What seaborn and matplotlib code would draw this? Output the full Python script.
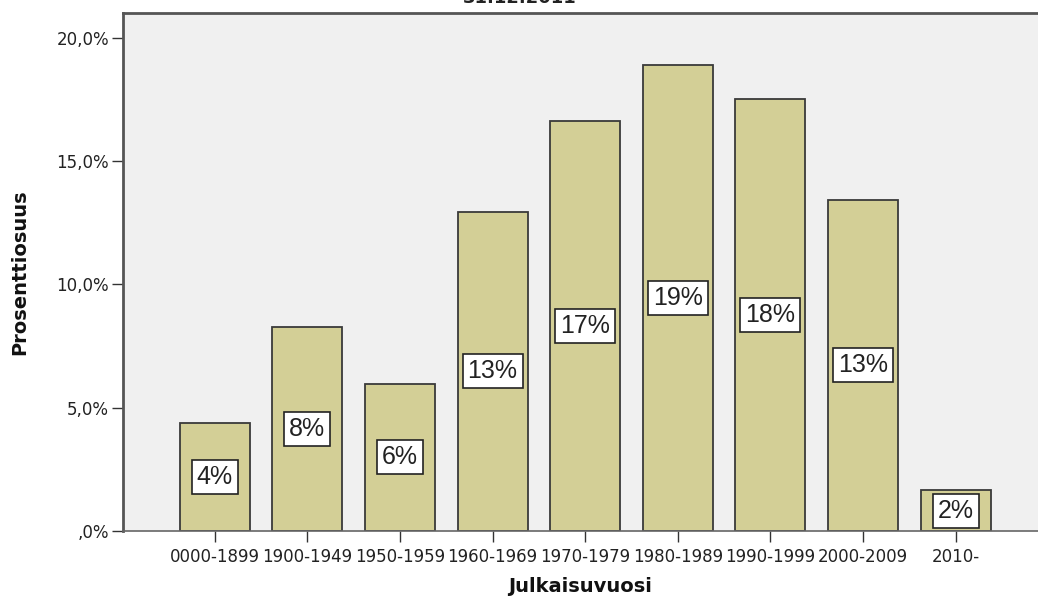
import numpy as np
import pandas as pd
import matplotlib.pyplot as plt
import seaborn as sns
from matplotlib.ticker import FuncFormatter

# Data
periods = ["0000-1899", "1900-1949", "1950-1959", "1960-1969", "1970-1979",
           "1980-1989", "1990-1999", "2000-2009", "2010-"]
shares = [4.38, 8.28, 5.96, 12.94, 16.63, 18.90, 17.52, 13.43, 1.66]
title_text = "31.12.2011"

df = pd.DataFrame({"Julkaisuvuosi": periods, "Prosenttiosuus": shares})

sns.set_style("white")
plt.rcParams['font.family'] = ['DejaVu Sans']

fig = plt.figure(figsize=(10.38, 5.99), dpi=100)
ax = fig.add_axes([123 / 1038, 68 / 599, 915 / 1038, 518 / 599])
ax.set_facecolor("#F0F0F0")

sns.barplot(data=df, x="Julkaisuvuosi", y="Prosenttiosuus", color="#D3CF96",
            edgecolor="#3a3a3a", linewidth=1.3, width=0.756, saturation=1, ax=ax)

# value labels in white boxes at mid-height
for i, v in enumerate(shares):
    ax.text(i, v / 2, f"{round(v)}%", ha="center", va="center", fontsize=18,
            family=["Liberation Sans", "DejaVu Sans"], color="#222222",
            bbox=dict(boxstyle="square,pad=0.2", facecolor="white",
                      edgecolor="#222222", linewidth=1.2))

ax.set_xlim(-0.99, 8.89)
ax.set_ylim(0, 21.0)
ax.set_yticks([0, 5, 10, 15, 20])


def pct(v, p):
    s = f"{v:.1f}%".replace(".", ",")
    return s.lstrip("0") if v < 1 else s


ax.yaxis.set_major_formatter(FuncFormatter(pct))

ax.tick_params(axis="both", direction="out", length=8, width=1, color="#333333",
               labelcolor="#222222", left=True, bottom=True)
ax.tick_params(axis="y", labelsize=12, pad=2)
ax.tick_params(axis="x", labelsize=12, pad=4)

for s in ["left", "top"]:
    ax.spines[s].set_color("#555555")
    ax.spines[s].set_linewidth(2)
ax.spines["bottom"].set_color("#666666")
ax.spines["bottom"].set_linewidth(1.2)
ax.spines["right"].set_visible(False)

ax.set_xlabel("Julkaisuvuosi", fontsize=14, fontweight="bold", color="#111111")
ax.set_ylabel("Prosenttiosuus", fontsize=14, fontweight="bold", color="#111111")
ax.xaxis.set_label_coords(0.5, -0.108)
ax.xaxis.label.set_va("center")
ax.yaxis.set_label_coords(-0.1126, 0.5)
ax.yaxis.label.set_va("center")

# title mostly cut off at the top edge, as in the reference
fig.text(520 / 1038, 1 - 3 / 599, title_text, ha="center", va="baseline",
         fontsize=13, fontweight="bold", color="#222222")

fig.savefig("out.png", dpi=100)
